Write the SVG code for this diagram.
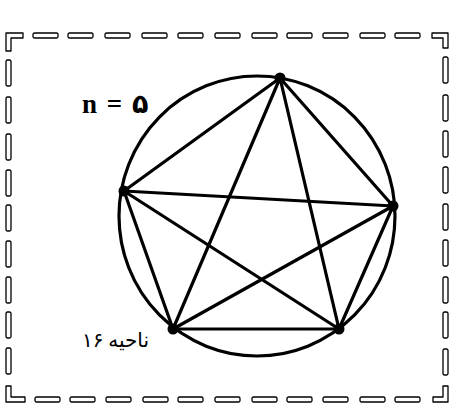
<svg xmlns="http://www.w3.org/2000/svg" width="463" height="410" viewBox="0 0 463 410">
<style>
.dash{fill:#fff;stroke:#000;stroke-width:1.3;stroke-linejoin:round}
.edge{stroke:#000;stroke-width:3.2;stroke-linecap:round;fill:none}
.circ{fill:none;stroke:#000;stroke-width:3.2}
.dot{fill:#000}
.lbl{font-family:"Liberation Serif","DejaVu Sans",serif;font-weight:bold;font-size:27px;fill:#000}
.fa{font-family:"DejaVu Sans","Noto Sans",sans-serif;font-size:20px;fill:#000}
</style>
<defs>
<rect id="h" width="25" height="5" rx="1.5" class="dash"/>
<rect id="v" width="5" height="26" rx="1.5" class="dash"/>
</defs>
<rect width="463" height="410" fill="#fff"/>
<g id="frame">
<path class="dash" d="M6,51 V33 H23 V38 H11 V51 Z"/>
<path class="dash" d="M432,33 H448 V48 H443 V38 H432 Z"/>
<path class="dash" d="M6,386 V402 H25 V397 H11 V386 Z"/>
<path class="dash" d="M443,386 V397 H433 V402 H448 V386 Z"/>
<use href="#h" x="33" y="33"/><use href="#h" x="68" y="33"/><use href="#h" x="105" y="33"/><use href="#h" x="142" y="33"/><use href="#h" x="178" y="33"/><use href="#h" x="215" y="33"/><use href="#h" x="252" y="33"/><use href="#h" x="287" y="33"/><use href="#h" x="323" y="33"/><use href="#h" x="360" y="33"/><use href="#h" x="395" y="33"/>
<use href="#h" x="35" y="397"/><use href="#h" x="70" y="397"/><use href="#h" x="106" y="397"/><use href="#h" x="143" y="397"/><use href="#h" x="178" y="397"/><use href="#h" x="215" y="397"/><use href="#h" x="252" y="397"/><use href="#h" x="287" y="397"/><use href="#h" x="323" y="397"/><use href="#h" x="360" y="397"/><use href="#h" x="395" y="397"/>
<use href="#v" x="6" y="60"/><use href="#v" x="6" y="97"/><use href="#v" x="6" y="134"/><use href="#v" x="6" y="170"/><use href="#v" x="6" y="205"/><use href="#v" x="6" y="241"/><use href="#v" x="6" y="277"/><use href="#v" x="6" y="312"/><use href="#v" x="6" y="348"/>
<use href="#v" x="443" y="57"/><use href="#v" x="443" y="95"/><use href="#v" x="443" y="131"/><use href="#v" x="443" y="167"/><use href="#v" x="443" y="204"/><use href="#v" x="443" y="240"/><use href="#v" x="443" y="277"/><use href="#v" x="443" y="312"/><use href="#v" x="443" y="349"/>
</g>
<g id="circle"><ellipse class="circ" cx="257" cy="216" rx="138" ry="140"/></g>
<g id="connectors">
<line class="edge" x1="280" y1="78" x2="124" y2="191"/>
<line class="edge" x1="280" y1="78" x2="393" y2="206"/>
<line class="edge" x1="280" y1="78" x2="173" y2="329"/>
<line class="edge" x1="280" y1="78" x2="339" y2="329"/>
<line class="edge" x1="124" y1="191" x2="393" y2="206"/>
<line class="edge" x1="124" y1="191" x2="173" y2="329"/>
<line class="edge" x1="124" y1="191" x2="339" y2="329"/>
<line class="edge" x1="393" y1="206" x2="173" y2="329"/>
<line class="edge" x1="393" y1="206" x2="339" y2="329"/>
<line class="edge" x1="173" y1="329" x2="339" y2="329"/>
</g>
<g id="p1"><circle class="dot" cx="280" cy="78" r="5.5"/></g>
<g id="p2"><circle class="dot" cx="124" cy="191" r="5.5"/></g>
<g id="p3"><circle class="dot" cx="393" cy="206" r="5.5"/></g>
<g id="p4"><circle class="dot" cx="173" cy="329" r="5.5"/></g>
<g id="p5"><circle class="dot" cx="339" cy="329" r="5.5"/></g>
<g id="label-n"><text class="lbl" x="82" y="113" word-spacing="3">n = ۵</text></g>
<g id="label-regions"><text class="fa" x="82" y="347">۱۶</text><text class="fa" x="149" y="347" text-anchor="end">ناحیه</text></g>
</svg>
